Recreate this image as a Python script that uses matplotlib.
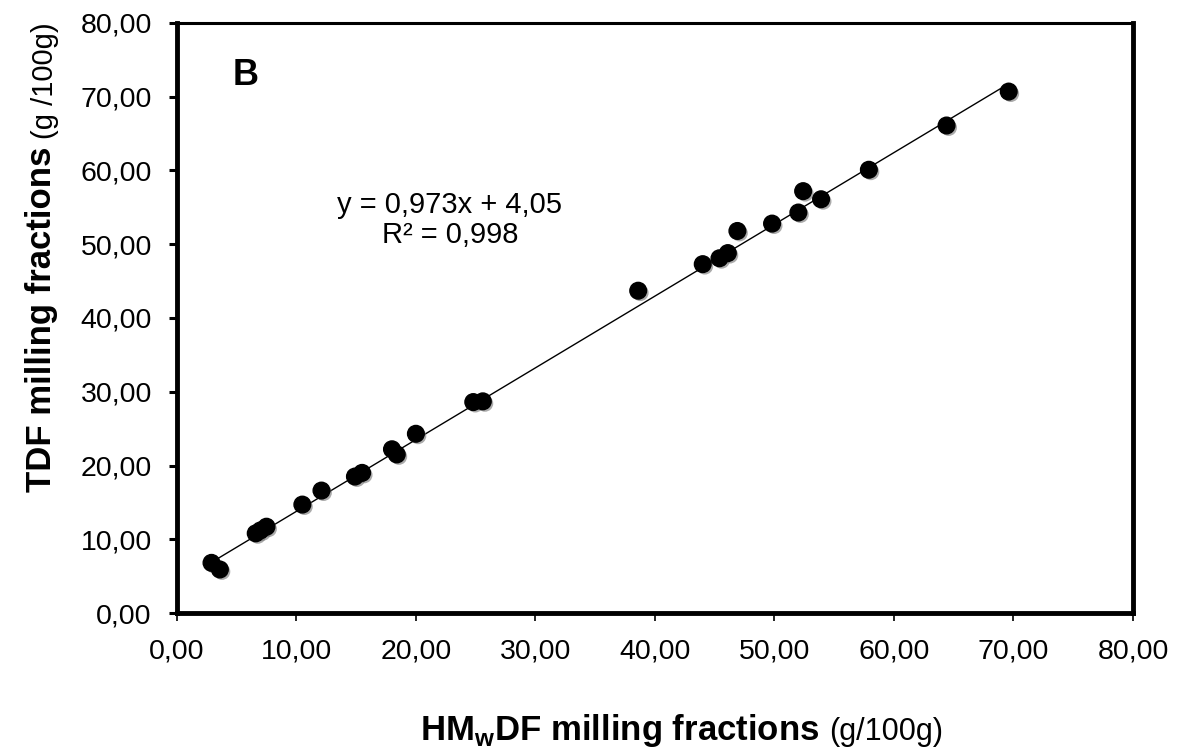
import matplotlib
matplotlib.use("Agg")
import matplotlib.pyplot as plt
import matplotlib.patheffects as pe
from matplotlib.ticker import FuncFormatter, MultipleLocator

plt.rcParams['font.family'] = ['Liberation Sans', 'DejaVu Sans']
plt.rcParams['mathtext.fontset'] = 'custom'
plt.rcParams['mathtext.rm'] = 'Liberation Sans'
plt.rcParams['mathtext.bf'] = 'Liberation Sans:bold'

# HMwDF (x) vs TDF (y) for the milling fractions, g/100g
hmwdf = [2.9, 3.6, 6.6, 7.0, 7.5, 10.5, 12.1, 14.9, 15.5, 18.0, 18.4, 20.0,
         24.8, 25.6, 38.6, 44.0, 45.4, 46.1, 46.9, 49.8, 52.0, 52.4, 53.9,
         57.9, 64.4, 69.6]
tdf = [6.8, 5.9, 10.8, 11.2, 11.7, 14.7, 16.6, 18.5, 19.0, 22.2, 21.5, 24.3,
       28.6, 28.7, 43.7, 47.3, 48.1, 48.8, 51.8, 52.8, 54.3, 57.2, 56.1,
       60.1, 66.1, 70.7]

# linear fit as reported on the chart
slope = 0.973
intercept = 4.05
r2 = 0.998
panel = "B"


def comma(v, _pos):
    return f"{v:.2f}".replace('.', ',')


fig = plt.figure(figsize=(11.79, 7.54), dpi=100)
ax = fig.add_axes([0.150, 0.187, 0.811, 0.7825])

# trend line over the range of the data
x0, x1 = min(hmwdf), max(hmwdf)
ax.plot([x0, x1], [slope * x0 + intercept, slope * x1 + intercept],
        color='black', lw=1.0, zorder=2)

shadow = [pe.SimplePatchShadow(offset=(1.5, -1.5), shadow_rgbFace='0.45', alpha=0.6),
          pe.Normal()]
ax.plot(hmwdf, tdf, 'o', ms=12, color='black', mec='black', zorder=3,
        path_effects=shadow)

ax.set_xlim(0, 80)
ax.set_ylim(0, 80)
ax.xaxis.set_major_locator(MultipleLocator(10))
ax.yaxis.set_major_locator(MultipleLocator(10))
ax.xaxis.set_major_formatter(FuncFormatter(comma))
ax.yaxis.set_major_formatter(FuncFormatter(comma))

for side in ('left', 'bottom', 'right'):
    ax.spines[side].set_linewidth(3.5)
ax.spines['top'].set_linewidth(2.2)

ax.tick_params(axis='x', direction='out', length=6, width=1.2, pad=12,
               labelsize=20.5)
ax.tick_params(axis='y', direction='out', length=6, width=2.2, pad=12,
               labelsize=20.5)

ax.text(0.0586, 0.895, panel, transform=ax.transAxes, fontsize=26,
        fontweight='bold', va='baseline', ha='left')

eq = f"y = {slope:.3f}x + {intercept:.2f}\nR² = {r2:.3f}".replace('.', ',')
ax.text(0.2856, 0.666, eq, transform=ax.transAxes, fontsize=21,
        ha='center', va='center', multialignment='center', linespacing=1.1)

# axis titles: bold part followed by the units in plain type
fig.canvas.draw()
renderer = fig.canvas.get_renderer()
inv = fig.transFigure.inverted()

xl_bold = fig.text(420 / 1179, 1 - 740 / 754, r"HM$_{\mathbf{w}}$DF milling fractions",
                   fontsize=25, fontweight='bold', ha='left', va='baseline')
bb = xl_bold.get_window_extent(renderer)
fig.text(inv.transform((bb.x1 + 10, 0))[0], 1 - 740 / 754, "(g/100g)",
         fontsize=22, ha='left', va='baseline')

yl_bold = fig.text(42 / 1179, 1 - 492 / 754, "TDF milling fractions",
                   fontsize=25, fontweight='bold', rotation=90,
                   ha='center', va='bottom')
bb = yl_bold.get_window_extent(renderer)
fig.text(45 / 1179, inv.transform((0, bb.y1 + 8))[1], "(g /100g)",
         fontsize=21, rotation=90, ha='center', va='bottom')

fig.savefig("out.png", dpi=100, facecolor='white')
